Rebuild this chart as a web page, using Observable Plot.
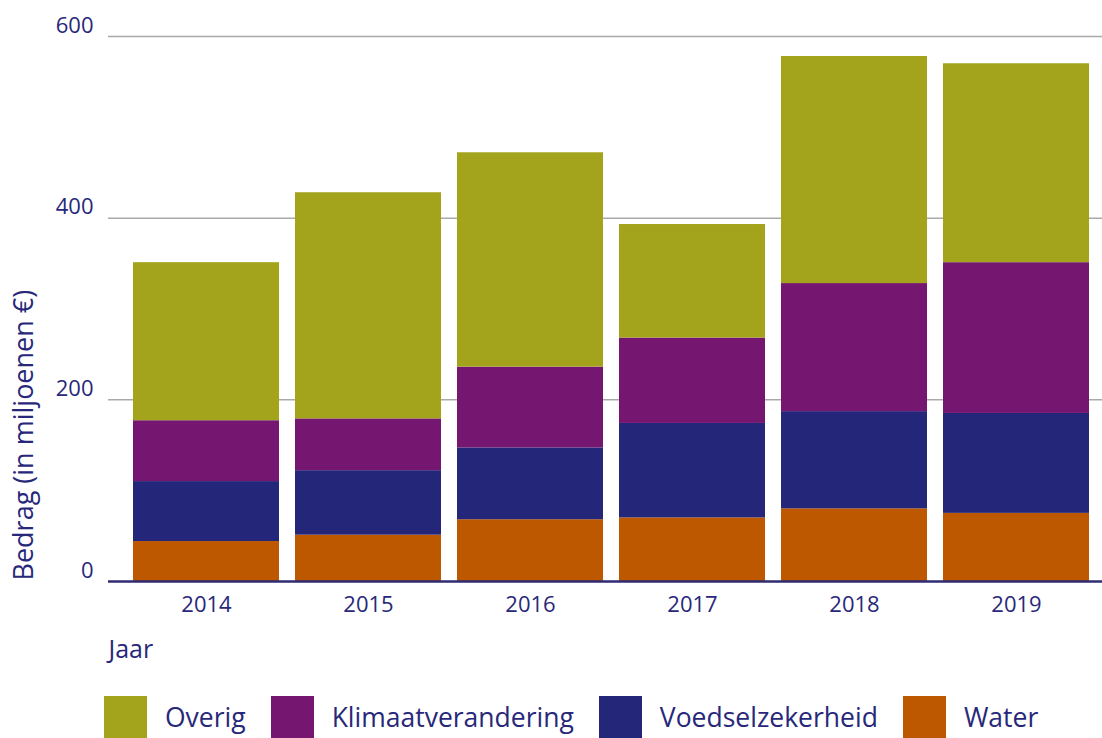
<!DOCTYPE html>
<html>
<head>
<meta charset="utf-8">
<script src="https://cdn.jsdelivr.net/npm/d3@7"></script>
<script src="https://cdn.jsdelivr.net/npm/@observablehq/plot@0.6"></script>
<style>
  html, body { margin: 0; padding: 0; background: #fff; }
  body { width: 1102px; height: 738px; overflow: hidden; font-family: "Open Sans", sans-serif; color: #28287a; }
  #legend { display: flex; align-items: center; padding-left: 104px; margin-top: 18px; }
  .item { display: flex; align-items: center; margin-right: 25px; }
  .sw { width: 43px; height: 42px; margin-right: 18px; }
  .lab { font-size: 26.5px; line-height: 42px; }
</style>
</head>
<body>
<div id="chart"></div>
<div id="legend"></div>
<script>
const years = ["2014", "2015", "2016", "2017", "2018", "2019"];
const categories = ["Water", "Voedselzekerheid", "Klimaatverandering", "Overig"];
const water = [44, 51, 68, 70, 80, 75];
const voedsel = [66, 71, 79, 104, 107, 110];
const klimaat = [67, 57, 89, 94, 141, 166];
const overig = [174, 249, 236, 125, 250, 219];
const colors = ["#bd5800", "#24267a", "#751670", "#a3a41c"];
const yTicks = [0, 200, 400, 600];
const legendOrder = ["Overig", "Klimaatverandering", "Voedselzekerheid", "Water"];

const series = [water, voedsel, klimaat, overig];
const rows = [];
categories.forEach((c, ci) => {
  years.forEach((y, yi) => rows.push({jaar: y, categorie: c, bedrag: series[ci][yi]}));
});

const textColor = "#28287a";

const chart = Plot.plot({
  width: 1102,
  height: 678,
  marginTop: 36,
  marginBottom: 97,
  marginLeft: 108,
  marginRight: 0,
  style: {fontFamily: "'Open Sans', sans-serif", color: textColor, background: "#fff", overflow: "visible"},
  x: {domain: years, padding: 0.1, range: [116, 1105]},
  y: {domain: [0, 600]},
  color: {domain: categories, range: colors},
  marks: [
    Plot.ruleY(yTicks.filter(d => d > 0), {stroke: "#a9a9a9", strokeWidth: 1.5}),
    Plot.barY(rows, {x: "jaar", y: "bedrag", fill: "categorie"}),
    Plot.ruleY([0], {stroke: "#2e2b72", strokeWidth: 2.5}),
    Plot.axisY({ticks: yTicks, tickSize: 0, tickPadding: 15, dy: -11, fontSize: 22, label: null}),
    Plot.axisX({tickSize: 0, tickPadding: 15, fontSize: 22, label: null}),
    Plot.text(["Bedrag (in miljoenen €)"], {frameAnchor: "bottom-left", rotate: -90, textAnchor: "start", lineAnchor: "middle", dx: -84, dy: -1, fontSize: 27, fill: textColor}),
    Plot.text(["Jaar"], {frameAnchor: "bottom-left", textAnchor: "start", lineAnchor: "middle", dy: 68, fontSize: 25, fill: textColor})
  ]
});
document.getElementById("chart").appendChild(chart);

const legend = document.getElementById("legend");
legendOrder.forEach(c => {
  const item = document.createElement("div");
  item.className = "item";
  const sw = document.createElement("div");
  sw.className = "sw";
  sw.style.background = colors[categories.indexOf(c)];
  const lab = document.createElement("span");
  lab.className = "lab";
  lab.textContent = c;
  item.appendChild(sw);
  item.appendChild(lab);
  legend.appendChild(item);
});
</script>
</body>
</html>
